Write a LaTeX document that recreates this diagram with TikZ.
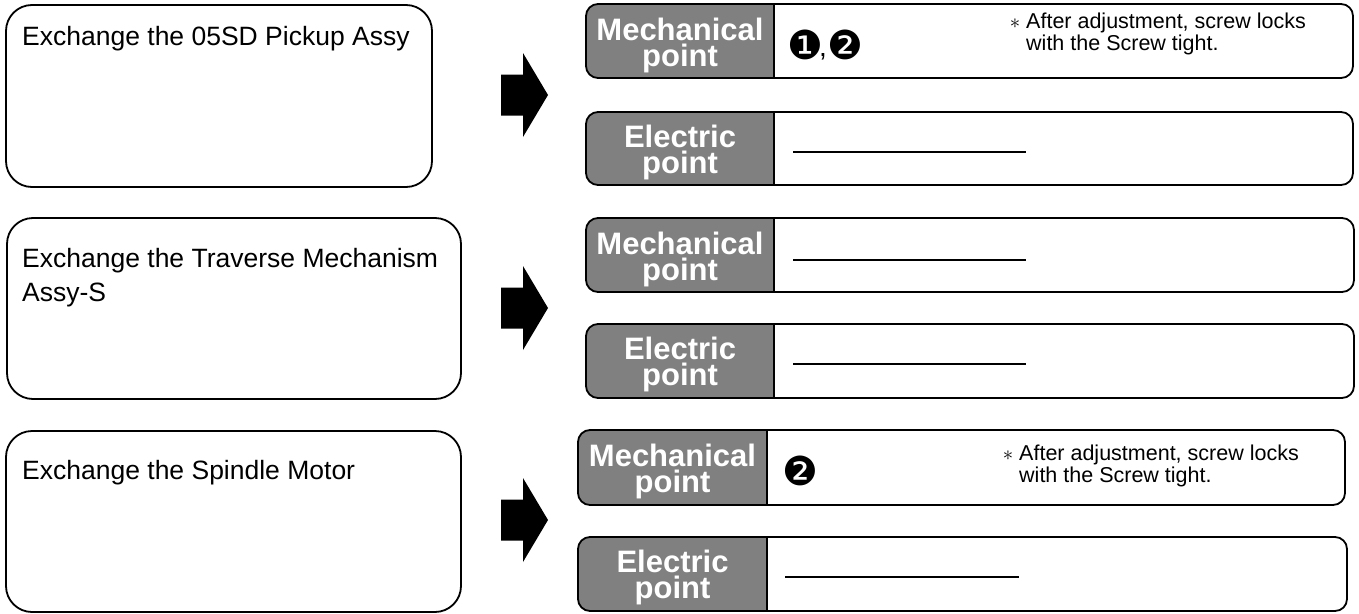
\documentclass[tikz,border=0pt]{standalone}
\usepackage{fontspec}
\setmainfont{Liberation Sans}
\newfontfamily\dvs{DejaVu Sans}
\definecolor{lblgray}{RGB}{128,128,128}
\tikzset{
  leftbox/.style={draw=black, line width=1.8pt, rounded corners=26pt, fill=white, inner sep=0pt},
  panelbox/.style={draw=black, line width=1.8pt, rounded corners=12pt, inner sep=0pt},
  divline/.style={draw=black, line width=1.8pt},
  blankline/.style={draw=black, line width=1.8pt},
  lefttext/.style={anchor=base west, inner sep=0pt, font=\fontsize{26.5}{34}\selectfont, align=left},
  lbltext/.style={anchor=center, inner sep=0pt, text=white, align=center, font=\bfseries\fontsize{31}{26}\selectfont},
  notetext/.style={anchor=base west, inner sep=0pt, font=\fontsize{21.5}{22}\selectfont},
  numtext/.style={anchor=base, inner sep=0pt, font=\dvs\fontsize{40}{40}\selectfont},
  commatext/.style={anchor=base west, inner sep=0pt, font=\fontsize{28}{30}\selectfont},
  bigarrow/.style={fill=black}
}
\newcommand\mypanel[8]{%
  \begin{scope}
    \clip[rounded corners=12pt] (#2,#3) rectangle (#4,#5);
    \fill[lblgray] (#2,#3) rectangle (#6,#5);
  \end{scope}
  \node[panelbox, minimum width={#4-#2}, minimum height={#5-#3}] (#1) at ({(#2+#4)/2},{(#3+#5)/2}) {};
  \draw[divline] (#6,#3) -- (#6,#5);
  \node[lbltext] (#1l) at ({(#2+#6)/2},{#3+#8}) {#7};
}
\newcommand\myarrow[1]{%
  \fill[bigarrow] (501,#1-20.5) -- (523,#1-20.5) -- (523,#1-42) -- (548,#1) -- (523,#1+42) -- (523,#1+20.5) -- (501,#1+20.5) -- cycle;
}
\begin{document}
\begin{tikzpicture}[x=1pt,y=-1pt]
\useasboundingbox (0,0) rectangle (1359,613);

% left boxes
\node[leftbox, minimum width=426, minimum height=182] (b1) at (219,96) {};
\node[lefttext] (b1t) at (22,45) {Exchange the 05SD Pickup Assy};
\node[leftbox, minimum width=454, minimum height=181] (b2) at (234,308.5) {};
\node[lefttext] (b2t) at (22,267) {Exchange the Traverse Mechanism};
\node[lefttext] (b2u) at (22,301) {Assy-S};
\node[leftbox, minimum width=455, minimum height=181] (b3) at (233.5,521.5) {};
\node[lefttext] (b3t) at (22,479) {Exchange the Spindle Motor};

% arrows
\myarrow{95}
\myarrow{308}
\myarrow{520}

% panels
\mypanel{m1}{586}{4}{1353}{78}{774}{Mechanical\\point}{41}
\mypanel{e1}{586}{112}{1353}{185}{774}{Electric\\point}{40}
\mypanel{m2}{586}{218}{1354}{292}{774}{Mechanical\\point}{41}
\mypanel{e2}{586}{324}{1354}{398}{774}{Electric\\point}{40}
\mypanel{m3}{578}{430}{1345}{505}{767}{Mechanical\\point}{41}
\mypanel{e3}{578}{537}{1347}{611}{767}{Electric\\point}{40}

% contents
\node[numtext] (m1n) at (805.5,59.5) {❶};
\node[commatext] (m1c) at (819,56) {,};
\node[numtext] (m1m) at (845.5,59.5) {❷};
\node[notetext] (m1a) at (1026,28) {\llap{$\ast$\hspace{6pt}}After adjustment, screw locks};
\node[notetext] (m1b) at (1026,50) {with the Screw tight.};
\draw[blankline] (793,152) -- (1026,152);
\draw[blankline] (793,260) -- (1026,260);
\draw[blankline] (793,364) -- (1026,364);
\node[numtext] (m3n) at (800,485.5) {❷};
\node[notetext] (m3a) at (1019,460) {\llap{$\ast$\hspace{6pt}}After adjustment, screw locks};
\node[notetext] (m3b) at (1019,482) {with the Screw tight.};
\draw[blankline] (785,577) -- (1019,577);
\end{tikzpicture}
\end{document}
